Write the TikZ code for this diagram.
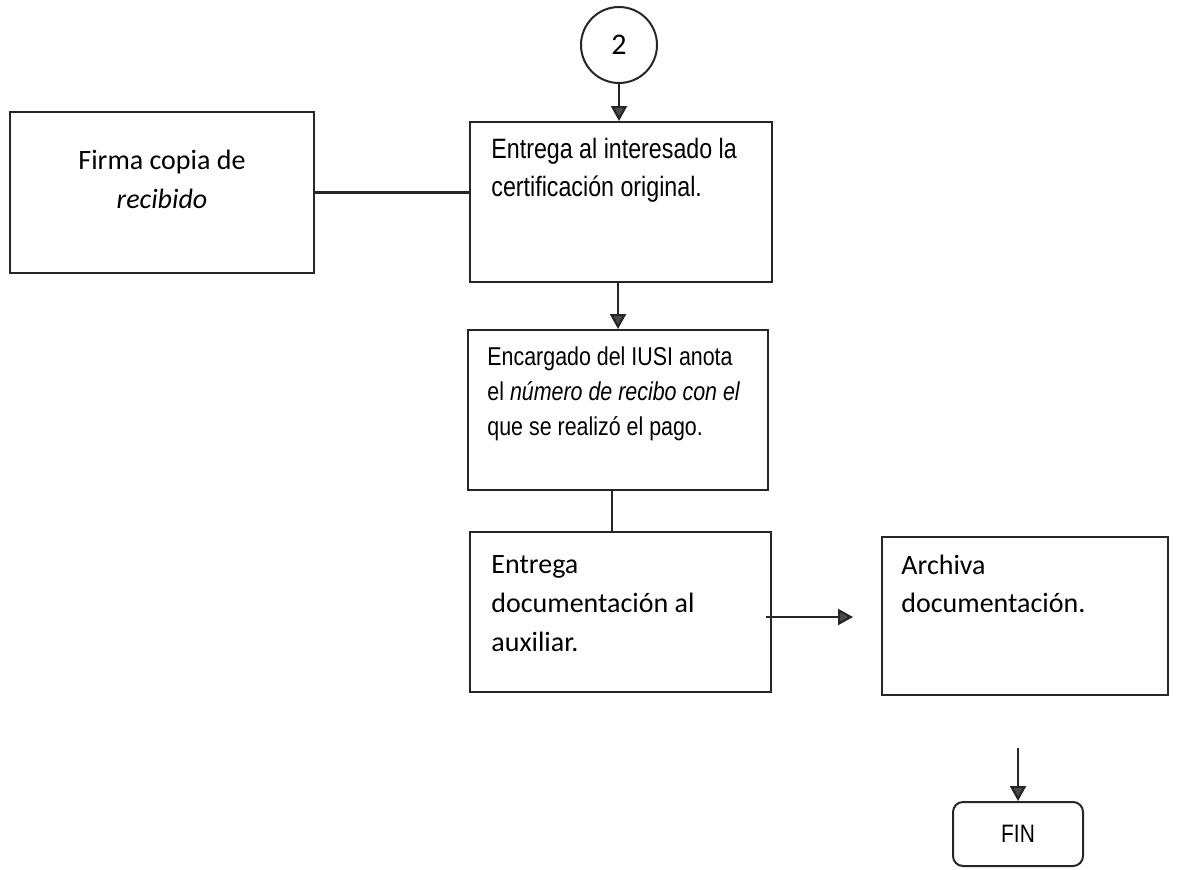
\documentclass[tikz,border=0pt]{standalone}
\usepackage{fontspec}
\usetikzlibrary{arrows.meta}
\newfontfamily\calib{Carlito}
\newfontfamily\narrowf[FakeStretch=0.83]{Liberation Sans}
\tikzset{
  box/.style={draw=black!85, line width=1pt, rectangle, inner sep=0pt},
  txt/.style={inner sep=0pt, anchor=north west, align=left},
  conn/.style={draw=black!85, line width=1.1pt},
  arr/.style={conn, -{Triangle[length=7.5pt,width=8pt,fill=black!70]}}
}
\begin{document}
\begin{tikzpicture}[x=0.5pt,y=-0.5pt]
\useasboundingbox (0,0) rectangle (1181,869);
% connector circle
\node[draw=black!85, line width=1pt, circle, minimum size=38pt, inner sep=0pt,
      font=\calib\fontsize{15}{17}\selectfont] (c2) at (619,45) {2};
% boxes
\node[box, minimum width=152pt, minimum height=80.5pt] (lb) at (162,192.5) {};
\node[box, minimum width=151pt, minimum height=80pt] (b1) at (621,202) {};
\node[box, minimum width=150pt, minimum height=80pt] (b2) at (618,410) {};
\node[box, minimum width=150.5pt, minimum height=80pt] (b3) at (620.5,612) {};
\node[box, minimum width=143pt, minimum height=79pt] (b4) at (1025,616) {};
\node[box, rounded corners=5pt, minimum width=65pt, minimum height=32pt,
      font=\narrowf\fontsize{12.6}{14}\selectfont] (fin) at (1018,834) {FIN};
% texts
\node[inner sep=0pt, anchor=north, align=center, font=\calib\fontsize{14}{19.5}\selectfont]
  (tlb) at ([yshift=-19.5pt]lb.north) {Firma copia de\\\itshape recibido};
\node[txt, font=\narrowf\fontsize{14}{19}\selectfont]
  (tb1) at ([shift={(22,17)}]b1.north west) {Entrega al interesado la\\certificación original.};
\node[txt, font=\narrowf\fontsize{12.9}{17.5}\selectfont]
  (tb2) at ([shift={(20,17)}]b2.north west) {Encargado del IUSI anota\\el \textit{número de recibo con el}\\que se realizó el pago.};
\node[txt, font=\calib\fontsize{14}{19.5}\selectfont]
  (tb3) at ([shift={(22,24)}]b3.north west) {Entrega\\documentación al\\auxiliar.};
\node[txt, font=\calib\fontsize{14}{19}\selectfont]
  (tb4) at ([shift={(20,19)}]b4.north west) {Archiva\\documentación.};
% connectors
\draw[arr] (c2.south) -- (c2.south |- b1.north);
\draw[conn] (lb.east) -- (lb.east -| b1.west);
\draw[arr] (b1.south -| b2.north) -- (b2.north);
\draw[conn] ([xshift=-3]b2.south) -- ([xshift=-3]b2.south |- b3.north);
\coordinate (a3) at ([shift={(-6,5)}]b3.east);
\draw[arr] (a3) -- ([xshift=-14]a3 -| b4.west);
\coordinate (f0) at (1018,748);
\draw[arr] (f0) -- (fin.north);
\end{tikzpicture}
\end{document}
